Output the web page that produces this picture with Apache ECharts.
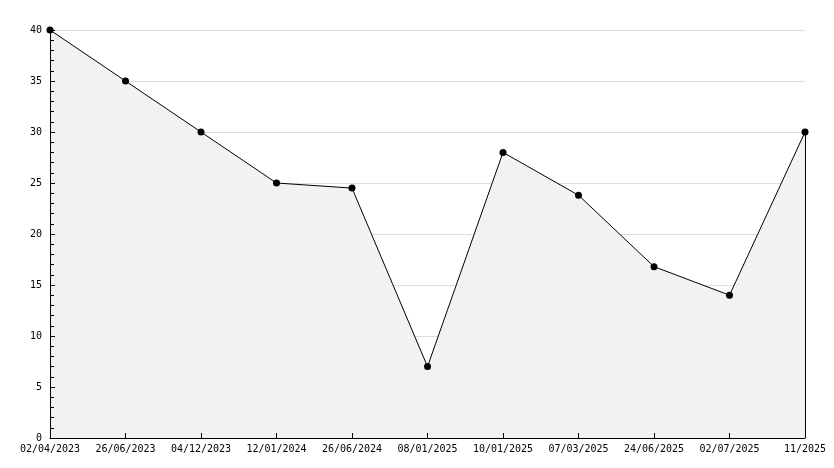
<!DOCTYPE html>
<html>
<head>
<meta charset="utf-8">
<script src="https://cdn.jsdelivr.net/npm/echarts@6/dist/echarts.min.js"></script>
<style>html,body{margin:0;padding:0;background:#fff;}#c{width:834px;height:468px;}</style>
</head>
<body>
<div id="c"></div>
<script>
const categories = ['02/04/2023','26/06/2023','04/12/2023','12/01/2024','26/06/2024','08/01/2025','10/01/2025','07/03/2025','24/06/2025','02/07/2025','11/2025'];
const values = [40, 35, 30, 25, 24.5, 7, 28, 23.8, 16.8, 14, 30];
const yTicks = [0, 5, 10, 15, 20, 25, 30, 35, 40];

const chart = echarts.init(document.getElementById('c'), null, {renderer: 'canvas'});
const font = 'DejaVu Sans Mono';
const lastIdx = categories.length - 1;
const yMin = yTicks[0], yMax = yTicks[yTicks.length - 1];
chart.setOption({
  animation: false,
  backgroundColor: '#fff',
  grid: {left: 50, right: 29, top: 30, bottom: 30, containLabel: false},
  xAxis: {
    type: 'category',
    data: categories,
    boundaryGap: false,
    z: 5,
    axisLine: {lineStyle: {color: '#000', width: 1}},
    axisTick: {show: true, inside: true, length: 5, alignWithLabel: true, lineStyle: {color: '#000'}},
    axisLabel: {color: '#000', fontFamily: font, fontSize: 10, margin: 6, interval: 0},
    splitLine: {show: false}
  },
  yAxis: [{
    type: 'value',
    min: yMin, max: yMax, interval: 5,
    z: 0,
    axisLine: {show: true, lineStyle: {color: '#000', width: 1}},
    axisTick: {show: false},
    axisLabel: {color: '#000', fontFamily: font, fontSize: 10, margin: 8},
    splitLine: {show: true, lineStyle: {color: '#dcdcdc', width: 1}}
  }, {
    type: 'value',
    position: 'left',
    min: yMin, max: yMax, interval: 5,
    z: 5,
    axisLine: {show: true, lineStyle: {color: '#000', width: 1}},
    axisTick: {show: true, inside: true, length: 5, lineStyle: {color: '#000'}},
    minorTick: {show: true, splitNumber: 5, length: 4, lineStyle: {color: '#000'}},
    axisLabel: {show: false},
    splitLine: {show: false}
  }],
  series: [{
    type: 'line',
    yAxisIndex: 0,
    data: values,
    symbol: 'circle',
    symbolSize: 7,
    z: 3,
    itemStyle: {color: '#000'},
    lineStyle: {color: '#000', width: 1},
    areaStyle: {color: '#f2f2f2', opacity: 1},
    markLine: {
      silent: true,
      symbol: ['none', 'none'],
      label: {show: false},
      lineStyle: {color: '#000', width: 1, type: 'solid'},
      data: [[{coord: [lastIdx, values[lastIdx]]}, {coord: [lastIdx, 0]}]]
    }
  }]
});
</script>
</body>
</html>
